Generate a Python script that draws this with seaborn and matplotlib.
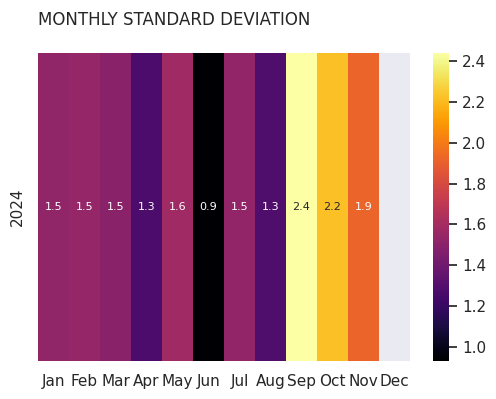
import numpy as np
import pandas as pd
import seaborn as sns
import matplotlib.pyplot as plt

months = ["Jan", "Feb", "Mar", "Apr", "May", "Jun", "Jul", "Aug", "Sep", "Oct", "Nov", "Dec"]
years = [2024]
std_2024 = [1.52, 1.54, 1.50, 1.27, 1.58, 0.93, 1.53, 1.28, 2.44, 2.22, 1.92, np.nan]

sns.set_theme()

df = pd.DataFrame([std_2024], index=years, columns=months)

fig = plt.figure(figsize=(4.96, 3.99), dpi=100)
ax = fig.add_axes([38 / 496, 38 / 399, 372 / 496, 308 / 399])
cax = fig.add_axes([433 / 496, 38 / 399, 16 / 496, 308 / 399])
sns.heatmap(df, cmap="inferno", annot=True, fmt=".1f", annot_kws={"size": 8},
            ax=ax, cbar_ax=cax)
ax.grid(False)
ax.set_title("MONTHLY STANDARD DEVIATION", loc="left", fontsize=12, pad=20)
ax.set_xlabel("")
ax.set_ylabel("")
ax.tick_params(axis="x", rotation=0)
plt.savefig("out.png", dpi=100)
